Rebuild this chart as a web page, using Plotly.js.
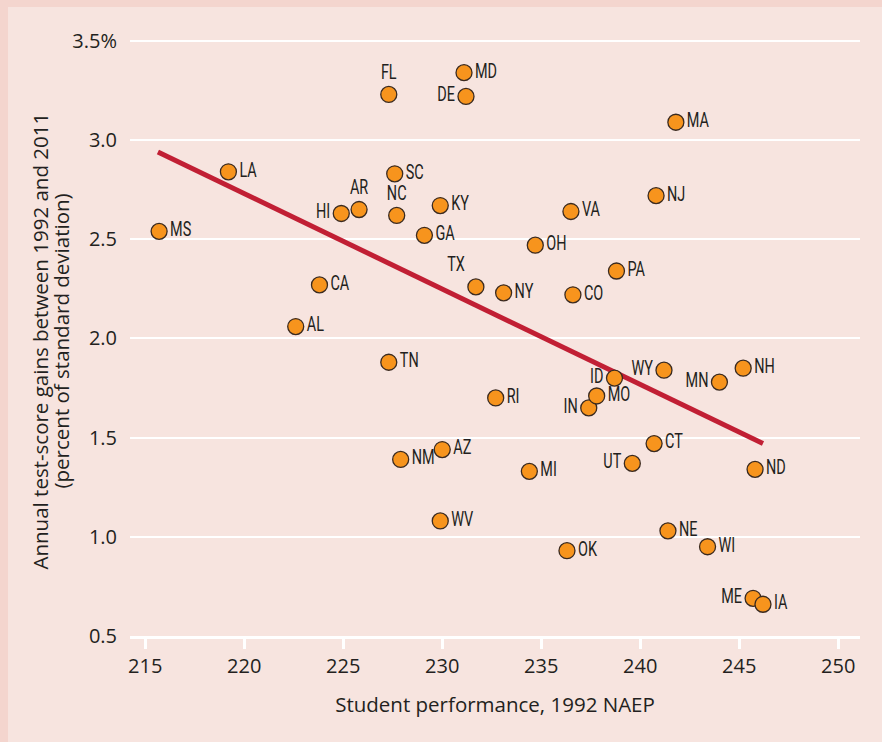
<!DOCTYPE html>
<html>
<head>
<meta charset="utf-8">
<script src="https://cdn.plot.ly/plotly-3.0.1.min.js"></script>
<style>
  html, body { margin: 0; padding: 0; background: #f4d5ce; width: 882px; height: 742px; overflow: hidden; }
  #chart { position: absolute; left: 8px; top: 7px; width: 874px; height: 735px; }
</style>
</head>
<body>
<div id="chart"></div>
<script>
// State codes
const states = ["MS","LA","FL","MD","DE","MA","SC","AR","HI","NC","KY","VA","NJ","GA","OH","PA","CO","TX","NY","CA","AL","TN","RI","IN","MO","ID","WY","MN","NH","CT","UT","ND","NE","AZ","NM","MI","WV","OK","WI","ME","IA"];
// Student performance, 1992 NAEP
const naep1992 = [215.7,219.2,227.3,231.1,231.2,241.8,227.6,225.8,224.9,227.7,229.9,236.5,240.8,229.1,234.7,238.8,236.6,231.7,233.1,223.8,222.6,227.3,232.7,237.4,237.8,238.7,241.2,244.0,245.2,240.7,239.6,245.8,241.4,230.0,227.9,234.4,229.9,236.3,243.4,245.7,246.2];
// Annual test-score gains 1992-2011 (% of SD)
const gains = [2.54,2.84,3.23,3.34,3.22,3.09,2.83,2.65,2.63,2.62,2.67,2.64,2.72,2.52,2.47,2.34,2.22,2.26,2.23,2.27,2.06,1.88,1.70,1.65,1.71,1.80,1.84,1.78,1.85,1.47,1.37,1.34,1.03,1.44,1.39,1.33,1.08,0.93,0.95,0.69,0.66];
// Fitted trend line endpoints
const trendX = [215.64, 246.2];
const trendY = [2.94, 1.47];
// Axis ticks
const yTickVals = [0.5,1.0,1.5,2.0,2.5,3.0,3.5];
const yTickText = ["0.5","1.0","1.5","2.0","2.5","3.0","3.5%"];
const xTickVals = [215,220,225,230,235,240,245,250];
const xTitle = "Student performance, 1992 NAEP";
const yTitle1 = "Annual test-score gains between 1992 and 2011";
const yTitle2 = "(percent of standard deviation)";

// label placement (style)
const leftLabels = ["DE","HI","IN","ID","WY","MN","UT","ME"];
const topLabels = ["FL","AR","NC"];
const labelPos = states.map(s => {
  if (topLabels.includes(s)) return "top center";
  if (s === "TX") return "top left";
  if (leftLabels.includes(s)) return "middle left";
  return "middle right";
});

const ink = "#231f20";
const mainFont = "Open Sans, Lato, sans-serif";
const traces = [
  {
    x: trendX, y: trendY, type: "scatter", mode: "lines",
    line: { color: "#c11f34", width: 5 }, hoverinfo: "skip"
  },
  {
    x: naep1992, y: gains, text: states, type: "scatter", mode: "markers+text",
    textposition: labelPos,
    textfont: { family: "Roboto, sans-serif", size: 19.5, color: ink },
    marker: { size: 16, color: "#f7941d", line: { color: "#3a2a20", width: 1.3 } },
    cliponaxis: false
  }
];

const layout = {
  width: 874, height: 735,
  paper_bgcolor: "#f7e4df", plot_bgcolor: "#f7e4df",
  showlegend: false,
  margin: { l: 122, r: 22, t: 22, b: 106 },
  font: { family: mainFont, color: ink },
  xaxis: {
    range: [214.23, 251.1],
    tickvals: xTickVals,
    showgrid: false, zeroline: false,
    showline: true, linecolor: "#ffffff", linewidth: 3,
    ticks: "outside", tickcolor: "#ffffff", ticklen: 10, tickwidth: 3,
    tickfont: { size: 20, color: ink },
    title: { text: xTitle, font: { size: 20.5, color: ink }, standoff: 20 }
  },
  yaxis: {
    range: [0.5, 3.56],
    tickvals: yTickVals, ticktext: yTickText,
    showgrid: true, gridcolor: "#ffffff", gridwidth: 2,
    zeroline: false, showline: false,
    ticks: "outside", tickcolor: "rgba(0,0,0,0)", ticklen: 8,
    tickfont: { size: 20, color: ink }
  },
  annotations: [
    { text: yTitle1, xref: "paper", yref: "paper", x: 0, y: 0.5, xanchor: "center", yanchor: "middle",
      xshift: -91, yshift: -9, textangle: -90, showarrow: false, font: { family: mainFont, size: 20.5, color: ink } },
    { text: yTitle2, xref: "paper", yref: "paper", x: 0, y: 0.5, xanchor: "center", yanchor: "middle",
      xshift: -70, yshift: -9, textangle: -90, showarrow: false, font: { family: mainFont, size: 20.5, color: ink } }
  ]
};

Plotly.newPlot("chart", traces, layout, { displayModeBar: false, staticPlot: true }).then(gd => {
  // condense point labels horizontally to mimic the narrow label face
  gd.querySelectorAll(".textpoint text").forEach(t => {
    const w = t.getComputedTextLength();
    if (w > 0) {
      t.setAttribute("textLength", (w * 0.74).toFixed(2));
      t.setAttribute("lengthAdjust", "spacingAndGlyphs");
    }
  });
});
</script>
</body>
</html>
